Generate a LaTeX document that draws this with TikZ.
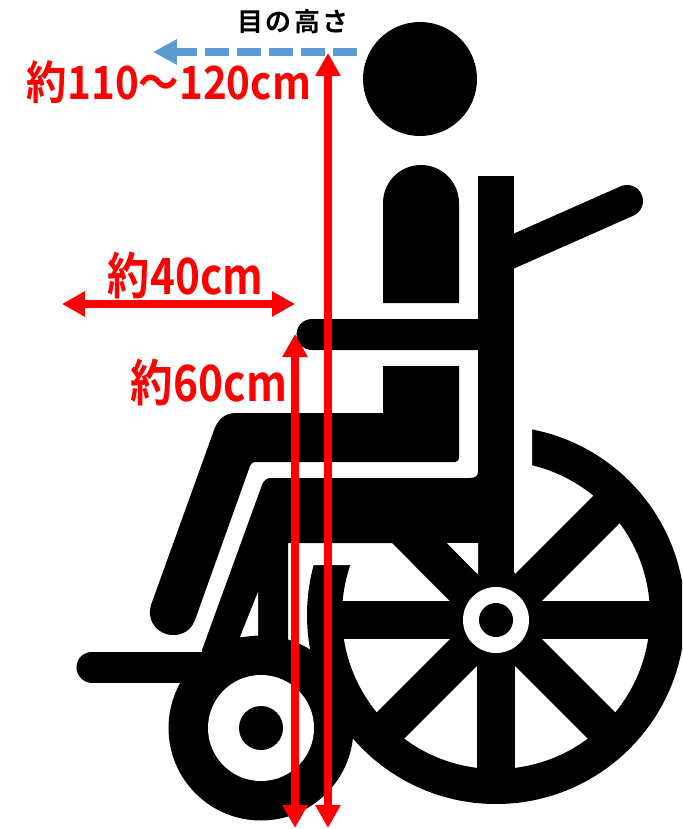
\documentclass[tikz,border=0pt]{standalone}
\usepackage{fontspec}
\usepackage{graphicx}
\usetikzlibrary{arrows.meta}
\newfontfamily\jpfont{Noto Sans CJK JP Bold}
\definecolor{dimred}{HTML}{FF0000}
\definecolor{eyeblue}{HTML}{5B9BD5}
\tikzset{
  dimarrow/.style={draw=dimred,line width=8pt,{Triangle[length=23pt,width=24pt]}-{Triangle[length=23pt,width=24pt]}},
  eyearrow/.style={draw=eyeblue,line width=8pt,dash pattern=on 24pt off 8pt,-{Triangle[length=24pt,width=24pt]}},
  dimtext/.style={text=dimred,inner sep=0pt,font=\jpfont},
  eyetext/.style={text=black,inner sep=0pt,font=\jpfont\fontsize{26}{26}\selectfont},
  symbol/.style={fill=black,draw=none}
}
\begin{document}
\begin{tikzpicture}[x=1pt,y=-1pt]
\useasboundingbox (0,0) rectangle (682,829);
\clip (0,0) rectangle (682,829);
\fill[white] (0,0) rectangle (682,829);
% big wheel rim
\coordinate (rimc) at (496,615);
\fill[black,even odd rule] (rimc) circle[radius=189] (rimc) circle[radius=154];
% spokes
\coordinate (hub) at (496,620);
\foreach \a in {0,45,...,315}{
  \draw[line width=38pt,black] (hub) -- ++(\a:165);
}
% white area above the rim's cut ends
\fill[white] (290,300) -- (532,300) -- (532,555) -- (514,573) -- (514,565) -- (290,565) -- cycle;
% upper left spoke and post
\fill[black] (392,543) -- (457,608) -- (500,610) -- (478,575) -- (447,543) -- cycle;
\fill[black] (478,176) rectangle (514,600);
% head
\fill[symbol] (420,79) circle[radius=57];
% torso
\fill[symbol] (383,303) -- (383,203) arc[start angle=180,end angle=360,radius=38] -- (459,303) -- cycle;
% back handle
\draw[line width=32pt,line cap=round,black] (505,255) -- (627,201);
\fill[black] (478,176) rectangle (514,300);
% arm rest
\fill[symbol] (478,319) -- (312,319) arc[start angle=-90,end angle=-270,radius=15.5] -- (478,350) -- cycle;
% thigh and lower leg
\fill[symbol] (383,366) -- (459,366) -- (459,456) .. controls (459,460) and (458,462) .. (455,462) -- (256,462) .. controls (252,462) and (251,464) .. (250,466)
  -- (195,620) .. controls (190,634) and (176,637) .. (166,634) .. controls (154,630) and (147,618) .. (151,605)
  -- (213,433) .. controls (217,420) and (224,413) .. (236,413) -- (383,413) -- cycle;
% frame
\fill[symbol] (262,485) .. controls (264,480) and (267,478) .. (271,478) -- (470,478) .. controls (475,478) and (478,476) .. (478,472) -- (490,472) -- (490,543) -- (288,543) -- (288,660) -- (202,660) -- (202,650) -- cycle;
\fill[white] (258,592) -- (258,637) -- (240,637) -- cycle;
\fill[white] (447,543) -- (478,543) -- (478,574) -- cycle;
% footrest
\draw[line width=31pt,line cap=round,black] (92,667) -- (215,667);
% caster
\fill[symbol] (261,728) circle[radius=92.5];
\fill[white] (261,728) circle[radius=53];
\fill[symbol] (261,728) circle[radius=22];
% hub
\fill[white] (hub) circle[radius=33];
\fill[symbol] (hub) circle[radius=17];
% dimension arrows
\coordinate (eyetop) at (328,53);
\coordinate (eyebot) at (328,828);
\coordinate (armtop) at (295,334);
\coordinate (armbot) at (295,828);
\coordinate (deptha) at (62,304);
\coordinate (depthb) at (295,304);
\coordinate (eyestart) at (357,52);
\coordinate (eyeend) at (153,52);
\draw[eyearrow] (eyestart) -- (eyeend);
\draw[dimarrow] (eyetop) -- (eyebot);
\draw[dimarrow] (armtop) -- (armbot);
\draw[dimarrow] (deptha) -- (depthb);
% texts
\node[eyetext] (eyelabel) at (293,22) {目\kern2.5pt の\kern2.5pt 高\kern2.5pt さ};
\node[dimtext] (t120) at (169,82) {\resizebox*{284pt}{43pt}{約110～120cm}};
\node[dimtext] (t40) at (185.5,275) {\resizebox*{155pt}{47pt}{約40cm}};
\node[dimtext] (t60) at (209,382) {\resizebox*{156pt}{47pt}{約60cm}};
\end{tikzpicture}
\end{document}
